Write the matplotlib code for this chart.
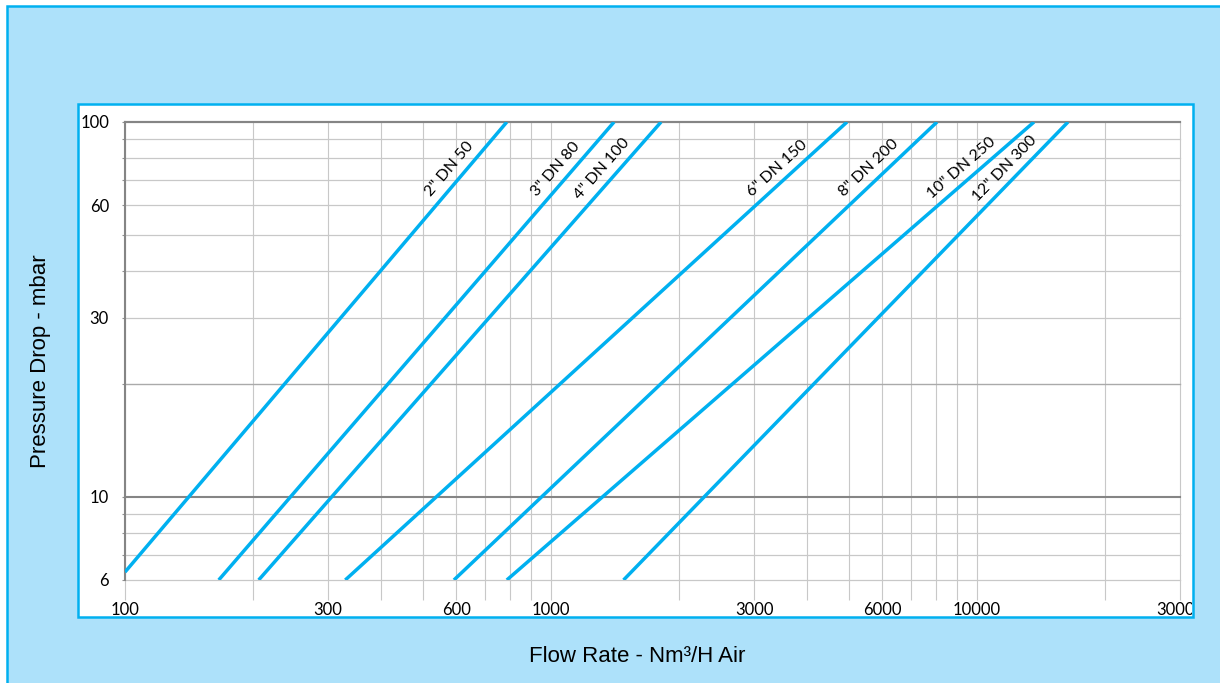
import numpy as np
import matplotlib
matplotlib.use('Agg')
import matplotlib.pyplot as plt
from matplotlib.patches import Rectangle
from matplotlib.ticker import FixedLocator, FixedFormatter, NullLocator
from matplotlib.transforms import Bbox, TransformedBbox

# pressure drop lines (straight on log-log)
sizes = ['2" DN 50', '3" DN 80', '4" DN 100', '6" DN 150',
         '8" DN 200', '10" DN 250', '12" DN 300']
flow_start = [100, 166, 206, 329, 592, 788, 1481]
dp_start = [6.3, 6, 6, 6, 6, 6, 6]
flow_end = [788, 1407, 1814, 4958, 8065, 13625, 16375]
dp_end = [100, 100, 100, 100, 100, 100, 100]

x_grid = [100, 200, 300, 400, 500, 600, 700, 800, 900,
          1000, 2000, 3000, 4000, 5000, 6000, 7000, 8000, 9000,
          10000, 20000, 30000]
x_labels = ['100', '300', '600', '1000', '3000', '6000', '10000', '30000']
y_grid = [6, 7, 8, 9, 10, 20, 30, 40, 50, 60, 70, 80, 90, 100]
y_labels = ['6', '10', '30', '60', '100']

LINE = '#00B0F0'
BG = '#ADE1FA'
LIGHT = '#C8C8C8'
DARK = '#858585'

W, H = 1220, 683
fig = plt.figure(figsize=(W / 100, H / 100), dpi=100, facecolor='white')

def fx(px):
    return px / W

def fy(py):
    return 1 - py / H

# outer light blue frame
fig.patches.append(Rectangle((fx(7), fy(700)), fx(1240) - fx(7), fy(6) - fy(700),
                             transform=fig.transFigure, facecolor=BG,
                             edgecolor=LINE, linewidth=1.8, zorder=0))
# white chart panel
fig.patches.append(Rectangle((fx(78), fy(617)), fx(1193) - fx(78), fy(104) - fy(617),
                             transform=fig.transFigure, facecolor='white',
                             edgecolor=LINE, linewidth=1.8, zorder=0.5))

ax = fig.add_axes([fx(125), fy(580), fx(1180) - fx(125), fy(122) - fy(580)])
ax.set_zorder(2)
ax.set_facecolor('white')
ax.set_xscale('log')
ax.set_yscale('log')
ax.set_xlim(100, 30000)
ax.set_ylim(6, 100)

for s in ['right', 'bottom']:
    ax.spines[s].set_visible(False)
for s in ['top', 'left']:
    ax.spines[s].set_color(DARK)
    ax.spines[s].set_linewidth(1.5)
    ax.spines[s].set_zorder(2.5)

# x ticks: every grid value, long light ticks below the axis
ax.xaxis.set_major_locator(FixedLocator(x_grid))
ax.xaxis.set_major_formatter(FixedFormatter(
    [str(v) if str(v) in x_labels else '' for v in x_grid]))
ax.xaxis.set_minor_locator(NullLocator())
ax.tick_params(axis='x', which='major', length=14.4, width=0.8, color=LIGHT,
               pad=1.5, labelsize=12, labelcolor='black')

ax.yaxis.set_major_locator(FixedLocator(y_grid))
ax.yaxis.set_major_formatter(FixedFormatter(
    [str(v) if str(v) in y_labels else '' for v in y_grid]))
ax.yaxis.set_minor_locator(NullLocator())
ax.tick_params(axis='y', which='major', length=2.5, width=0.8, color='#909090',
               pad=9, labelsize=12, labelcolor='black')

for lab in ax.get_xticklabels() + ax.get_yticklabels():
    lab.set_family(['Lato', 'DejaVu Sans'])

for v in x_grid:
    ax.axvline(v, color=LIGHT, linewidth=0.8, zorder=1, clip_on=False)
for v in y_grid:
    if v in (10, 100):
        c, lw = DARK, 1.5
    elif v == 20:
        c, lw = '#AAAAAA', 1.0
    else:
        c, lw = LIGHT, 0.9
    ax.axhline(v, color=c, linewidth=lw, zorder=1, clip_on=False)

fig.canvas.draw()
for i in range(len(sizes)):
    ax.plot([flow_start[i], flow_end[i]], [dp_start[i], dp_end[i]],
            color=LINE, linewidth=2.5, solid_capstyle='butt', zorder=3)
    # label sits along the line, a little above-left of it
    p0 = ax.transData.transform((flow_start[i], dp_start[i]))
    p1 = ax.transData.transform((flow_end[i], dp_end[i]))
    ang = np.arctan2(p1[1] - p0[1], p1[0] - p0[0])
    lab_dp = 71
    t = (np.log10(lab_dp) - np.log10(dp_start[i])) / (np.log10(dp_end[i]) - np.log10(dp_start[i]))
    f = 10 ** (np.log10(flow_start[i]) + t * (np.log10(flow_end[i]) - np.log10(flow_start[i])))
    d = 13
    ax.annotate(sizes[i], xy=(f, lab_dp), xytext=(-np.sin(ang) * d, np.cos(ang) * d),
                textcoords='offset pixels', rotation=np.degrees(ang),
                rotation_mode='anchor', ha='center', va='center',
                fontsize=11.5, family=['Lato', 'DejaVu Sans'], zorder=4)

# the last x label is cut by the panel edge
clip = TransformedBbox(Bbox([[fx(78), fy(617)], [fx(1192), fy(104)]]), fig.transFigure)
for lab in ax.get_xticklabels():
    lab.set_clip_on(True)
    lab.set_clip_box(clip)

fig.text(fx(637), fy(656), 'Flow Rate - Nm³/H Air', ha='center', va='center',
         fontsize=16, family=['Liberation Sans', 'DejaVu Sans'])
fig.text(fx(41), fy(361), 'Pressure Drop - mbar', ha='center', va='center',
         rotation=90, fontsize=16, family=['Liberation Sans', 'DejaVu Sans'])

fig.savefig('out.png', dpi=100, facecolor='white')
